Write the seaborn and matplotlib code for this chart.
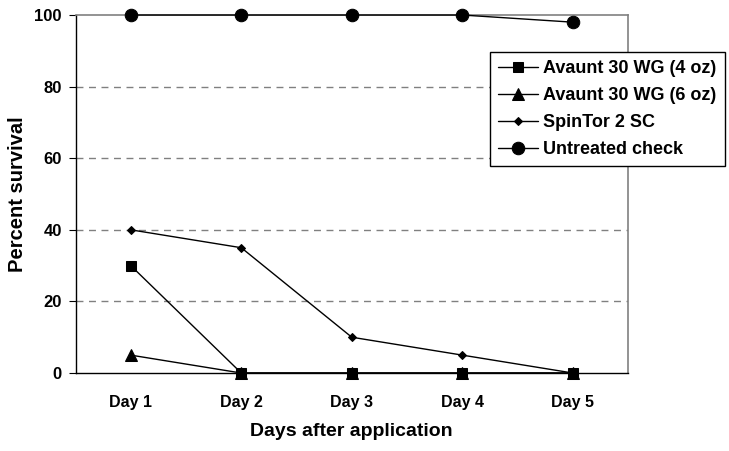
import matplotlib
matplotlib.use("Agg")
import matplotlib.pyplot as plt
import seaborn as sns
import pandas as pd
import numpy as np

days = ["Day 1", "Day 2", "Day 3", "Day 4", "Day 5"]
avaunt_4oz = [30, 0, 0, 0, 0]
avaunt_6oz = [5, 0, 0, 0, 0]
spintor = [40, 35, 10, 5, 0]
untreated = [100, 100, 100, 100, 98]

series = [
    ("Avaunt 30 WG (4 oz)", avaunt_4oz, "s", 7),
    ("Avaunt 30 WG (6 oz)", avaunt_6oz, "^", 8.5),
    ("SpinTor 2 SC", spintor, "D", 4.5),
    ("Untreated check", untreated, "o", 9),
]

sns.set_style("white")
plt.rcParams["font.family"] = ["Liberation Sans", "DejaVu Sans"]
plt.rcParams["font.weight"] = "bold"
plt.rcParams["text.color"] = "black"
plt.rcParams["axes.labelcolor"] = "black"
plt.rcParams["xtick.color"] = "black"
plt.rcParams["ytick.color"] = "black"

fig = plt.figure(figsize=(7.29, 4.51), dpi=100)
ax = fig.add_axes([0.1036, 0.1729, 0.8615 - 0.1036, 0.9667 - 0.1729])

pos = np.arange(len(days))
for name, vals, mk, ms in series:
    df = pd.DataFrame({"x": pos, "y": vals})
    sns.lineplot(data=df, x="x", y="y", ax=ax, color="black", linewidth=1.0,
                 marker=mk, markersize=ms, markeredgecolor="black",
                 markerfacecolor="black", label=name, zorder=3, clip_on=False)

ax.set_xlim(-0.5, len(days) - 0.5)
ax.set_ylim(0, 100)
ax.set_yticks([0, 20, 40, 60, 80, 100])
ax.set_yticklabels(["0", "20", "40", "60", "80", "100"], fontsize=12, fontweight="bold", color="black")
ax.set_xticks(pos)
ax.set_xticklabels(days, fontsize=11.5, fontweight="bold", color="black")
ax.set_xticks(np.arange(-0.5, len(days)), minor=True)
ax.tick_params(axis="x", which="major", length=0, pad=16)
ax.tick_params(axis="x", which="minor", length=4, direction="out", width=0.8, color="black")
ax.tick_params(axis="y", which="major", length=5, direction="out", width=0.8, color="black", pad=5, left=True)

for y in [20, 40, 60, 80]:
    ax.axhline(y, color="#808080", linestyle=(0, (5, 4)), linewidth=1.0, zorder=1)

ax.spines["left"].set_color("black")
ax.spines["bottom"].set_color("black")
ax.spines["left"].set_linewidth(1.0)
ax.spines["bottom"].set_linewidth(1.0)
for s in ["top", "right"]:
    ax.spines[s].set_visible(True)
    ax.spines[s].set_color("#808080")
    ax.spines[s].set_linewidth(1.2)

ax.set_xlabel("Days after application", fontsize=14, fontweight="bold", labelpad=9, color="black")
ax.set_ylabel("Percent survival", fontsize=14.5, fontweight="bold", labelpad=5, color="black")

leg = ax.legend(loc="upper left", bbox_to_anchor=(490 / 729, 1 - 52 / 451),
                bbox_transform=fig.transFigure, borderaxespad=0, frameon=True,
                fancybox=False, edgecolor="black", facecolor="white", framealpha=1,
                prop={"size": 13, "weight": "bold"}, handlelength=2.2,
                handletextpad=0.3, labelspacing=0.55, borderpad=0.45)
leg.get_frame().set_linewidth(1.0)
leg.set_zorder(10)

fig.savefig("out.png", dpi=100)
